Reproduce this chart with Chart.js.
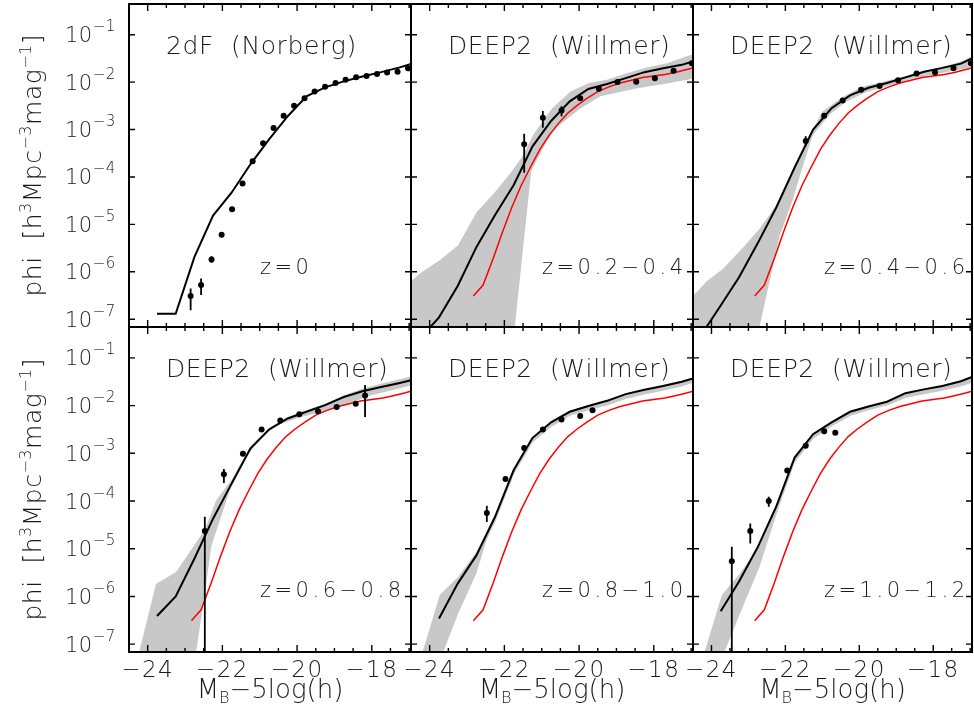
<!DOCTYPE html>
<html>
<head>
<meta charset="utf-8">
<title>Luminosity functions</title>
<script src="https://cdn.jsdelivr.net/npm/chart.js@4.4.0/dist/chart.umd.min.js"></script>
<style>
  html, body { margin: 0; padding: 0; background: #fff; overflow: hidden; }
  #wrap { position: relative; width: 974px; height: 711px; }
  #wrap canvas { position: absolute; left: 0; top: 0; }
</style>
</head>
<body>
<div id="wrap"></div>
<script>
// axis ranges (y values are log10 phi)
const XMIN = -24.5, XMAX = -16.95;
const YMIN = -7.164, YMAX = -0.353;
const xLabelTicks = [-24, -22, -20, -18];
const xSmallTicks = [-24, -23.5, -23, -22.5, -22, -21.5, -21, -20.5, -20, -19.5, -19, -18.5, -18, -17.5, -17];
const yDecades = [-1, -2, -3, -4, -5, -6, -7];

// model magnitude bins (black curves)
const modelMag = [-24.25, -23.75, -23.25, -22.75, -22.25, -21.75, -21.25, -20.75, -20.25, -19.75, -19.25, -18.75, -18.25, -17.75, -17.25, -16.95];
const p1Model = [null, -6.885, -6.885, -5.69, -4.815, -4.327, -3.733, -3.208, -2.719, -2.30, -2.111, -1.985, -1.88, -1.79, -1.69, -1.615];
const p2Model = [-7.4, -6.96, -6.30, -5.48, -4.80, -4.17, -3.36, -2.82, -2.405, -2.146, -2.041, -1.916, -1.79, -1.706, -1.636, -1.566];
const p3Model = [-7.30, -6.71, -6.11, -5.40, -4.65, -3.80, -3.00, -2.55, -2.28, -2.12, -2.02, -1.90, -1.78, -1.70, -1.61, -1.50];
const p4Model = [null, -6.41, -6.00, -5.21, -4.37, -3.63, -2.90, -2.50, -2.27, -2.13, -1.99, -1.82, -1.70, -1.61, -1.525, -1.47];
const p5Model = [null, -6.46, -5.73, -5.14, -4.33, -3.35, -2.68, -2.35, -2.13, -2.01, -1.90, -1.76, -1.67, -1.59, -1.50, -1.43];
const p6Model = [null, -6.31, -5.68, -4.97, -4.12, -3.09, -2.60, -2.35, -2.13, -2.02, -1.92, -1.74, -1.66, -1.59, -1.49, -1.40];

// local reference curve (red), same in every DEEP2 panel
const redMag = [-22.83, -22.57, -22.30, -22.05, -21.80, -21.55, -21.30, -21.05, -20.80, -20.55, -20.30, -20.05, -19.80, -19.50, -19.20, -18.90, -18.60, -18.30, -18.00, -17.70, -17.40, -17.20, -16.95];
const redPhi = [-6.51, -6.28, -5.72, -5.16, -4.64, -4.18, -3.79, -3.42, -3.12, -2.87, -2.65, -2.49, -2.35, -2.20, -2.10, -2.02, -1.96, -1.905, -1.87, -1.84, -1.79, -1.75, -1.70];

// observed points with error bars
const p1DotX = [-22.85, -22.57, -22.29, -22.02, -21.74, -21.46, -21.19, -20.91, -20.63, -20.36, -20.08, -19.80, -19.53, -19.25, -18.97, -18.70, -18.42, -18.14, -17.86, -17.59, -17.31, -17.03];
const p1DotY = [-6.51, -6.28, -5.74, -5.22, -4.68, -4.14, -3.67, -3.29, -2.97, -2.71, -2.50, -2.34, -2.20, -2.10, -2.02, -1.95, -1.90, -1.87, -1.83, -1.80, -1.78, -1.71];
const p1ErrHi = [-6.35, -6.14, -5.67, null, null, null, null, null, null, null, null, null, null, null, null, null, null, null, null, null, null, null];
const p1ErrLo = [-6.81, -6.49, -5.81, null, null, null, null, null, null, null, null, null, null, null, null, null, null, null, null, null, null, null];

const p2DotX = [-21.47, -20.97, -20.47, -19.97, -19.47, -18.97, -18.47, -17.97, -17.47, -16.98];
const p2DotY = [-3.31, -2.75, -2.60, -2.34, -2.14, -2.00, -1.99, -1.92, -1.76, -1.60];
const p2ErrHi = [-3.09, -2.61, -2.51, null, null, null, null, null, null, null];
const p2ErrLo = [-3.91, -2.96, -2.72, null, null, null, null, null, null, null];

const p3DotX = [-21.45, -20.95, -20.45, -19.95, -19.45, -18.95, -18.45, -17.95, -17.45, -16.98];
const p3DotY = [-3.24, -2.71, -2.39, -2.16, -2.08, -1.96, -1.82, -1.80, -1.71, -1.60];
const p3ErrHi = [-3.14, null, null, null, null, null, null, null, null, null];
const p3ErrLo = [-3.35, null, null, null, null, null, null, null, null, null];

const p4DotX = [-22.47, -21.96, -21.45, -20.95, -20.45, -19.94, -19.44, -18.94, -18.43, -18.18];
const p4DotY = [-4.63, -3.44, -3.01, -2.50, -2.31, -2.18, -2.12, -2.03, -1.96, -1.79];
const p4ErrHi = [-4.33, -3.33, null, null, null, null, null, null, null, -1.57];
const p4ErrLo = [-9.0, -3.62, null, null, null, null, null, null, null, -2.24];

const p5DotX = [-22.47, -21.97, -21.47, -20.97, -20.47, -19.97, -19.64];
const p5DotY = [-4.25, -3.54, -2.89, -2.50, -2.29, -2.22, -2.10];
const p5ErrHi = [-4.10, null, null, null, null, null, null];
const p5ErrLo = [-4.44, null, null, null, null, null, null];

const p6DotX = [-23.45, -22.95, -22.45, -21.95, -21.45, -20.95, -20.65];
const p6DotY = [-5.26, -4.63, -4.00, -3.36, -2.84, -2.54, -2.57];
const p6ErrHi = [-4.96, -4.47, -3.91, null, null, null, null];
const p6ErrLo = [-9.0, -4.89, -4.12, null, null, null, null];

// model spread (grey bands): upper and lower edges
const p2BandUpX = [-24.5, -24.2, -23.74, -23.24, -22.75, -22.26, -21.82, -21.5, -21.22, -20.72, -20.23, -19.74, -19.25, -18.71, -18.18, -17.64, -17.1, -16.95];
const p2BandUp  = [-6.20, -6.00, -5.76, -5.44, -4.75, -4.33, -3.90, -3.55, -3.10, -2.55, -2.20, -2.02, -1.95, -1.81, -1.69, -1.60, -1.45, -1.42];
const p2BandLoX = [-24.5, -21.78, -21.28, -20.72, -19.96, -19.43, -18.44, -17.73, -17.1, -16.95];
const p2BandLo  = [-8.0, -7.6, -3.87, -3.03, -2.55, -2.30, -2.13, -2.04, -1.95, -1.92];

const p3BandUpX = [-24.5, -24.39, -24.13, -23.68, -23.14, -22.70, -22.16, -21.81, -21.5, -21.0, -20.46, -19.93, -19.30, -18.59, -17.70, -17.2, -16.95];
const p3BandUp  = [-6.50, -6.42, -6.20, -5.93, -5.48, -5.09, -4.50, -3.90, -3.38, -2.62, -2.32, -2.10, -1.98, -1.84, -1.67, -1.55, -1.45];
const p3BandLoX = [-24.5, -22.80, -22.70, -22.44, -22.16, -21.81, -21.54, -21.26, -20.82, -20.37, -19.84, -19.30, -18.59, -17.70, -16.95];
const p3BandLo  = [-8.0, -7.8, -7.16, -6.24, -5.26, -4.50, -3.80, -3.12, -2.70, -2.42, -2.22, -2.10, -1.93, -1.80, -1.68];

const p4BandUpX = [-24.3, -23.78, -23.24, -22.48, -22.16, -21.75, -21.25, -20.75, -20.25, -19.75, -19.25, -18.75, -18.25, -17.75, -17.25, -16.95];
const p4BandUp  = [-7.40, -5.74, -5.49, -4.61, -3.98, -3.55, -2.85, -2.47, -2.24, -2.10, -1.96, -1.79, -1.64, -1.54, -1.45, -1.39];
const p4BandLoX = [-24.3, -22.75, -22.70, -22.48, -22.30, -21.80, -21.35, -20.97, -20.43, -19.89, -18.99, -18.09, -16.95];
const p4BandLo  = [-7.40, -7.40, -7.14, -6.01, -4.96, -3.77, -3.08, -2.65, -2.38, -2.24, -2.07, -1.80, -1.58];

const p5BandUpX = [-24.3, -23.73, -23.24, -22.75, -22.25, -21.75, -21.25, -20.75, -20.25, -19.75, -19.25, -18.75, -18.25, -17.75, -17.25, -16.95];
const p5BandUp  = [-7.45, -5.97, -5.59, -5.07, -4.31, -3.33, -2.66, -2.33, -2.11, -1.99, -1.88, -1.74, -1.65, -1.57, -1.48, -1.41];
const p5BandLoX = [-24.3, -23.70, -23.24, -22.75, -22.48, -22.25, -21.75, -21.25, -20.75, -20.25, -19.75, -19.25, -18.75, -18.25, -17.75, -17.25, -16.95];
const p5BandLo  = [-7.45, -7.30, -6.36, -5.52, -4.82, -4.45, -3.45, -2.78, -2.45, -2.22, -2.10, -2.00, -1.86, -1.77, -1.69, -1.60, -1.52];

const p6BandUpX = [-24.3, -23.72, -23.23, -22.70, -22.25, -21.75, -21.25, -20.75, -20.25, -19.75, -19.25, -18.75, -18.25, -17.75, -17.25, -16.95];
const p6BandUp  = [-7.45, -5.97, -5.52, -4.93, -4.10, -3.07, -2.58, -2.33, -2.11, -2.00, -1.90, -1.72, -1.64, -1.57, -1.47, -1.38];
const p6BandLoX = [-24.3, -23.72, -23.23, -22.70, -22.25, -21.75, -21.25, -20.75, -20.25, -19.75, -19.25, -18.75, -18.25, -17.75, -17.25, -16.95];
const p6BandLo  = [-7.45, -7.30, -6.36, -5.38, -4.30, -3.20, -2.70, -2.44, -2.22, -2.10, -2.00, -1.84, -1.76, -1.69, -1.60, -1.52];

// panel grid in page pixels
const colEdges = [129, 411, 693, 974];
const rowEdges = [2, 327, 652];
const CANVAS_W = 976, CANVAS_H = 711;

const panels = [
  { col: 0, row: 0, title: '2dF  (Norberg)', zlab: 'z=0', model: p1Model,
    dotX: p1DotX, dotY: p1DotY, errHi: p1ErrHi, errLo: p1ErrLo },
  { col: 1, row: 0, title: 'DEEP2  (Willmer)', zlab: 'z=0.2\u22120.4', model: p2Model,
    dotX: p2DotX, dotY: p2DotY, errHi: p2ErrHi, errLo: p2ErrLo, red: true,
    band: [p2BandUpX, p2BandUp, p2BandLoX, p2BandLo] },
  { col: 2, row: 0, title: 'DEEP2  (Willmer)', zlab: 'z=0.4\u22120.6', model: p3Model,
    dotX: p3DotX, dotY: p3DotY, errHi: p3ErrHi, errLo: p3ErrLo, red: true,
    band: [p3BandUpX, p3BandUp, p3BandLoX, p3BandLo] },
  { col: 0, row: 1, title: 'DEEP2  (Willmer)', zlab: 'z=0.6\u22120.8', model: p4Model,
    dotX: p4DotX, dotY: p4DotY, errHi: p4ErrHi, errLo: p4ErrLo, red: true,
    band: [p4BandUpX, p4BandUp, p4BandLoX, p4BandLo] },
  { col: 1, row: 1, title: 'DEEP2  (Willmer)', zlab: 'z=0.8\u22121.0', model: p5Model,
    dotX: p5DotX, dotY: p5DotY, errHi: p5ErrHi, errLo: p5ErrLo, red: true,
    band: [p5BandUpX, p5BandUp, p5BandLoX, p5BandLo] },
  { col: 2, row: 1, title: 'DEEP2  (Willmer)', zlab: 'z=1.0\u22121.2', model: p6Model,
    dotX: p6DotX, dotY: p6DotY, errHi: p6ErrHi, errLo: p6ErrLo, red: true,
    band: [p6BandUpX, p6BandUp, p6BandLoX, p6BandLo] }
];

const TXT = '#1a1a1a';
const FAMILY = '"DejaVu Sans", sans-serif';
const exp10 = v => Math.pow(10, v);
const pts = (xs, ys) => xs.map((x, i) => ({ x: x, y: ys[i] == null ? null : exp10(ys[i]) }));

// draws a run of [text, size, dy, spacing] pieces char by char; returns its width
function runText(ctx, parts, x, y, draw) {
  let cx = x;
  for (const [t, size, dy, sp] of parts) {
    ctx.font = '200 ' + size + 'px ' + FAMILY;
    for (const ch of t) {
      if (draw) ctx.fillText(ch, cx, y + dy);
      cx += ctx.measureText(ch).width + sp;
    }
  }
  return cx - x;
}

function decoPlugin(p) {
  return {
    id: 'deco',
    afterDatasetsDraw(chart) {
      const { ctx, chartArea: a, scales: { x, y } } = chart;
      ctx.save();
      ctx.beginPath();
      ctx.rect(a.left, a.top, a.right - a.left, a.bottom - a.top);
      ctx.clip();
      ctx.strokeStyle = '#000';
      ctx.lineWidth = 1.8;
      ctx.beginPath();
      p.dotX.forEach((mx, i) => {
        if (p.errHi[i] == null) return;
        const px = x.getPixelForValue(mx);
        ctx.moveTo(px, y.getPixelForValue(exp10(p.errHi[i])));
        ctx.lineTo(px, y.getPixelForValue(exp10(p.errLo[i])));
      });
      ctx.stroke();
      ctx.restore();
    },
    afterDraw(chart) {
      const { ctx, chartArea: a, scales: { x, y } } = chart;
      ctx.save();
      // box and inward ticks
      ctx.strokeStyle = '#000';
      ctx.lineWidth = 2;
      ctx.strokeRect(a.left, a.top, a.right - a.left, a.bottom - a.top);
      ctx.lineWidth = 1.4;
      ctx.beginPath();
      xSmallTicks.forEach(v => {
        const px = x.getPixelForValue(v);
        const len = v % 2 === 0 ? 7 : 4;
        ctx.moveTo(px, a.bottom); ctx.lineTo(px, a.bottom - len);
        ctx.moveTo(px, a.top); ctx.lineTo(px, a.top + len);
      });
      yDecades.forEach(e => {
        const py = y.getPixelForValue(exp10(e));
        ctx.moveTo(a.left, py); ctx.lineTo(a.left + 6, py);
        ctx.moveTo(a.right, py); ctx.lineTo(a.right - 6, py);
      });
      ctx.stroke();

      ctx.fillStyle = TXT;
      ctx.textBaseline = 'alphabetic';
      ctx.textAlign = 'left';
      // panel captions
      runText(ctx, [[p.title, 25, 0, 0.6]], a.left + 37, a.top + 50, true);
      runText(ctx, [[p.zlab, 21, 0, 3.5]], a.left + 131, a.top + 270, true);

      if (p.col === 0) {
        yDecades.forEach(e => {
          const py = y.getPixelForValue(exp10(e));
          runText(ctx, [['10', 21, 0, 0.5], ['\u2212' + (-e), 15, -11, 0.5]], 65, py + 7.5, true);
        });
        const parts = [['phi  [h', 25, 0, 0.5], ['3', 16, -10, 0.5], ['Mpc', 25, 0, 0.5],
                       ['\u22123', 16, -10, 0.5], ['mag', 25, 0, 0.5], ['\u22121', 16, -10, 0.5], [']', 25, 0, 0]];
        const w = runText(ctx, parts, 0, 0, false);
        ctx.save();
        ctx.translate(41, (a.top + a.bottom) / 2);
        ctx.rotate(-Math.PI / 2);
        runText(ctx, parts, -w / 2, 0, true);
        ctx.restore();
      }
      if (p.row === 1) {
        xLabelTicks.forEach(v => {
          const px = x.getPixelForValue(v);
          const parts = [['\u2212' + (-v), 23, 0, 1.5]];
          const w = runText(ctx, parts, 0, 0, false);
          runText(ctx, parts, px - w / 2, 677, true);
        });
        const parts = [['M', 26, 0, 0], ['B', 16, 5, 0], ['\u22125log(h)', 26, 0, 0]];
        const w = runText(ctx, parts, 0, 0, false);
        runText(ctx, parts, (a.left + a.right) / 2 - w / 2, 698, true);
      }
      ctx.restore();
    }
  };
}

const wrap = document.getElementById('wrap');

panels.forEach(p => {
  const canvas = document.createElement('canvas');
  canvas.width = CANVAS_W;
  canvas.height = CANVAS_H;
  canvas.style.width = CANVAS_W + 'px';
  canvas.style.height = CANVAS_H + 'px';
  wrap.appendChild(canvas);

  const datasets = [
    { type: 'scatter', data: pts(p.dotX, p.dotY), pointRadius: 3, pointBackgroundColor: '#000',
      pointBorderWidth: 0, order: 0 },
    { type: 'line', data: pts(modelMag, p.model), borderColor: '#000', borderWidth: 2,
      pointRadius: 0, fill: false, tension: 0, clip: 0, order: 1 }
  ];
  if (p.red) {
    datasets.push({ type: 'line', data: pts(redMag, redPhi), borderColor: '#ff0000', borderWidth: 1.5,
      pointRadius: 0, fill: false, tension: 0, clip: 0, order: 2 });
  }
  if (p.band) {
    const [ux, uy, lx, ly] = p.band;
    const shape = pts(ux, uy).concat(pts(lx, ly).reverse());
    datasets.push({ type: 'line', data: shape, borderColor: 'rgba(0,0,0,0)', borderWidth: 1,
      backgroundColor: '#c8c8c8', pointRadius: 0, fill: 'shape', tension: 0, clip: 0, order: 3 });
  }

  new Chart(canvas, {
    type: 'line',
    data: { datasets },
    options: {
      responsive: false,
      animation: false,
      devicePixelRatio: 1,
      events: [],
      layout: {
        padding: {
          left: colEdges[p.col],
          right: CANVAS_W - colEdges[p.col + 1],
          top: rowEdges[p.row],
          bottom: CANVAS_H - rowEdges[p.row + 1]
        }
      },
      scales: {
        x: { type: 'linear', display: false, min: XMIN, max: XMAX },
        y: { type: 'logarithmic', display: false, min: exp10(YMIN), max: exp10(YMAX) }
      },
      plugins: { legend: { display: false }, tooltip: { enabled: false } }
    },
    plugins: [decoPlugin(p)]
  });
});
</script>
</body>
</html>
